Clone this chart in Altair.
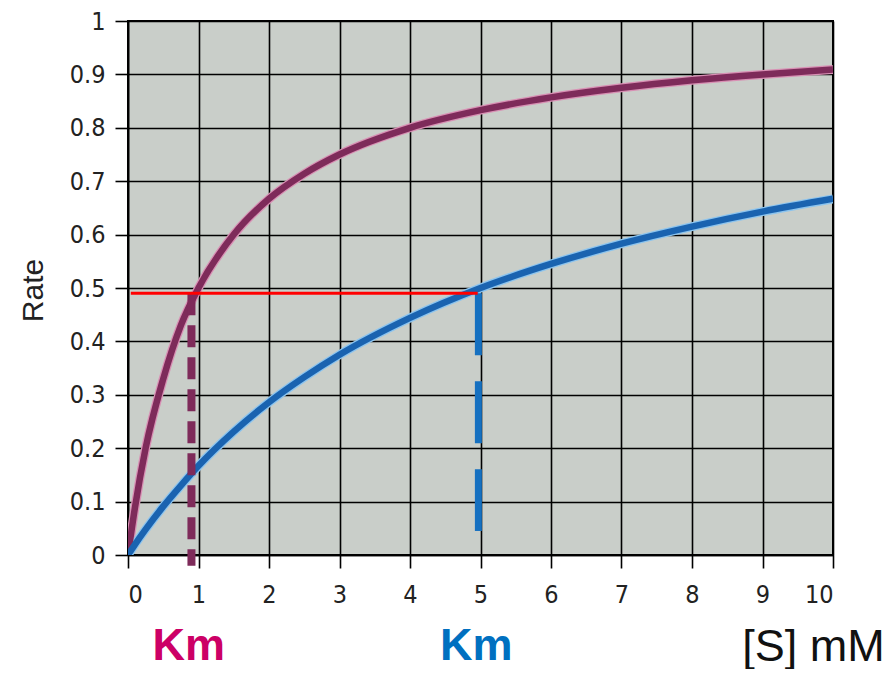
import altair as alt
import pandas as pd

# Substrate concentration [S] (mM) sampled along the curves
s_values = [0, 0.1, 0.25, 0.5, 0.75, 1, 1.5, 2, 2.5, 3, 4, 5, 6, 7, 8, 9, 10]
# Rate – low Km enzyme (maroon curve)
rate_low_km = [0, 0.09, 0.2, 0.33, 0.43, 0.5, 0.6, 0.667, 0.714, 0.75, 0.8, 0.833, 0.857, 0.875, 0.889, 0.9, 0.909]
# Rate – high Km enzyme (blue curve)
rate_high_km = [0, 0.02, 0.048, 0.091, 0.13, 0.167, 0.231, 0.286, 0.333, 0.375, 0.444, 0.5, 0.545, 0.583, 0.615, 0.643, 0.667]

series_names = ["Km 1", "Km 5"]
series_colors = ["#7E2B5A", "#1A63B0"]
halo_colors = ["#D890B4", "#8CC4EE"]

# Half-maximal rate marker and Km drop lines
half_rate = 0.49
red_start, red_end = 0.04, 4.96
km_low, km_low_bottom = 0.9, -0.02
km_high, km_high_bottom = 4.97, 0.045

x_ticks = list(range(0, 11))
y_ticks = [round(i * 0.1, 1) for i in range(0, 11)]

rows = []
for name, ys in zip(series_names, [rate_low_km, rate_high_km]):
    for s, r in zip(s_values, ys):
        rows.append({"S": s, "Rate": r, "series": name})
curves = pd.DataFrame(rows)

x_scale = alt.Scale(domain=[0, 10], nice=False, zero=False)
y_scale = alt.Scale(domain=[0, 1], nice=False, zero=False)

label_font = "Liberation Sans Narrow, DejaVu Sans Condensed, Arial Narrow, Liberation Sans, sans-serif"

x_axis = alt.Axis(values=x_ticks, format="d", title="[S] mM",
                  titleFont="Liberation Sans", titleFontSize=45, titleFontWeight="normal",
                  titleColor="#111111", titleX=685, titleY=105, titleAlign="center",
                  titleBaseline="alphabetic", titleAnchor="start",
                  labelPadding=14)
y_axis = alt.Axis(values=y_ticks, format="~g", title="Rate",
                  titleFont="Liberation Sans", titleFontSize=30, titleFontWeight="normal",
                  titleColor="#222222", titleX=-86, titleY=269, titleAlign="center",
                  titleBaseline="alphabetic", titleAngle=-90, titleAnchor="start",
                  labelPadding=10)

color_scale = alt.Scale(domain=series_names, range=series_colors)
halo_scale = alt.Scale(domain=series_names, range=halo_colors)

halo = alt.Chart(curves).mark_line(strokeWidth=9, interpolate="monotone", clip=True).encode(
    x=alt.X("S:Q", scale=x_scale, axis=x_axis),
    y=alt.Y("Rate:Q", scale=y_scale, axis=y_axis),
    color=alt.Color("series:N", scale=halo_scale, legend=None),
    detail="series:N",
)
lines = alt.Chart(curves).mark_line(strokeWidth=6.5, interpolate="monotone", clip=True).encode(
    x=alt.X("S:Q", scale=x_scale),
    y=alt.Y("Rate:Q", scale=y_scale),
    color=alt.Color("series:N", scale=color_scale, legend=None),
    detail="series:N",
)

drop_df = pd.DataFrame({
    "x": [km_low, km_high],
    "top": [half_rate, half_rate],
    "bottom": [km_low_bottom, km_high_bottom],
})
drop_low = alt.Chart(drop_df.iloc[[0]]).mark_rule(
    color="#7E2B5A", strokeWidth=8, strokeDash=[22, 10]).encode(
    x=alt.X("x:Q", scale=x_scale), y=alt.Y("top:Q", scale=y_scale), y2="bottom:Q")
drop_high = alt.Chart(drop_df.iloc[[1]]).mark_rule(
    color="#1570C0", strokeWidth=7, strokeDash=[62, 26]).encode(
    x=alt.X("x:Q", scale=x_scale), y=alt.Y("top:Q", scale=y_scale), y2="bottom:Q")

red_df = pd.DataFrame({"x1": [red_start], "x2": [red_end], "y": [half_rate]})
red = alt.Chart(red_df).mark_rule(color="#FF0000", strokeWidth=3).encode(
    x=alt.X("x1:Q", scale=x_scale), x2="x2:Q", y=alt.Y("y:Q", scale=y_scale))

km_df = pd.DataFrame({"x": [0.86, 4.94], "label": ["Km", "Km"], "c": ["low", "high"]})
km_text = alt.Chart(km_df).mark_text(
    font="Liberation Sans", fontSize=45, fontWeight="bold", baseline="alphabetic",
    align="center").encode(
    x=alt.X("x:Q", scale=x_scale),
    y=alt.value(639),
    text="label:N",
    color=alt.Color("c:N", scale=alt.Scale(domain=["low", "high"], range=["#CC0066", "#0070C0"]), legend=None),
)

chart = alt.layer(halo, lines, drop_low, drop_high, red, km_text).resolve_scale(
    color="independent"
).properties(
    width=705, height=534,
    autosize=alt.AutoSizeParams(type="none"),
    padding={"left": 120, "top": 13, "right": 54, "bottom": 114},
).configure_view(
    fill="#C9CEC9", stroke="black", strokeWidth=2,
).configure_axis(
    grid=True, gridColor="black", gridWidth=1.6, gridOpacity=1,
    domainColor="black", domainWidth=1.6,
    tickColor="black", tickWidth=1.6, tickSize=13,
    labelFont=label_font, labelFontSize=25, labelColor="#222222",
)

chart.save("out.html", embed_options={"renderer": "svg", "actions": False})
